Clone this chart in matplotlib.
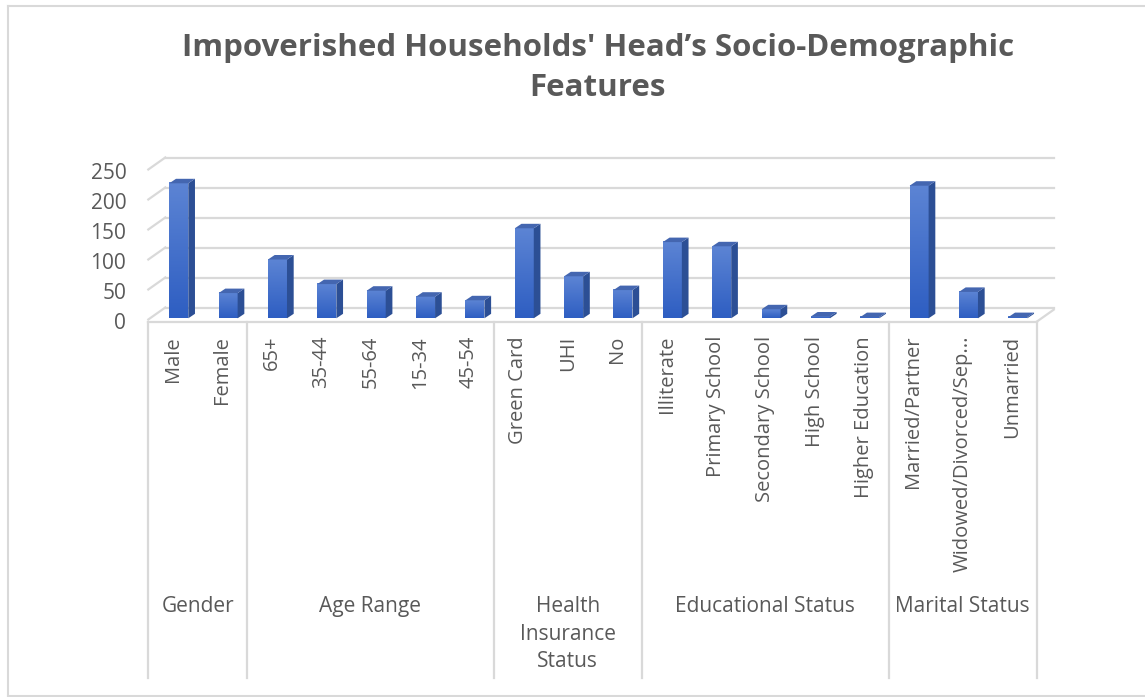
import matplotlib.pyplot as plt
import matplotlib.patches as mpatches
import numpy as np

plt.rcParams['font.family'] = ['Open Sans', 'DejaVu Sans']

groups = ['Gender', 'Age Range', 'Health\nInsurance\nStatus', 'Educational Status', 'Marital Status']
group_sizes = [2, 5, 3, 5, 3]
categories = ['Male', 'Female',
              '65+', '35-44', '55-64', '15-34', '45-54',
              'Green Card', 'UHI', 'No',
              'Illiterate', 'Primary School', 'Secondary School', 'High School', 'Higher Education',
              'Married/Partner', 'Widowed/Divorced/Sep...', 'Unmarried']
counts = [225, 42,
          98, 57, 46, 36, 30,
          150, 70, 47,
          127, 120, 15, 3, 2,
          221, 44, 2]
yticks = [0, 50, 100, 150, 200, 250]

W, H = 1145, 697
fig = plt.figure(figsize=(W / 100, H / 100), dpi=100)

# plot frame in pixels
x0_px, x1_px = 148.3, 1036.7
y0_px, ppu = 319.5, 0.6  # pixel row of 0, pixels per unit
ax = fig.add_axes([x0_px / W, (H - y0_px) / H, (x1_px - x0_px) / W, 250 * ppu / H])
n = len(categories)
ax.set_xlim(0, n)
ax.set_ylim(0, 250)
ax.axis('off')

cw = (x1_px - x0_px) / n          # pixels per category
px_x = lambda p: p / cw           # pixel -> data (x)
px_y = lambda p: p / ppu          # pixel -> data (y)

grid_c = '#d9d9d9'
text_c = '#595959'
wx, wy = px_x(17), px_y(12)       # back wall offset

# back wall gridlines + left wall slants
for v in yticks:
    ax.plot([wx, n + wx], [v + wy, v + wy], color=grid_c, lw=1.6, clip_on=False, zorder=1)
    ax.plot([0, wx], [v, v + wy], color=grid_c, lw=1.6, clip_on=False, zorder=1)

# floor edges
fy = -px_y(2.2)
ax.plot([0, n], [fy, fy], color=grid_c, lw=1.6, clip_on=False, zorder=1)
ax.plot([n, n + wx], [fy, fy + wy], color=grid_c, lw=1.6, clip_on=False, zorder=1)

# bars with a simple 3D look
bw = px_x(19)
sdx, sdy = px_x(6.7), px_y(4.5)
shift = px_x(5.8)
by = px_y(1.2)
grad = np.linspace(0, 1, 64).reshape(-1, 1)
top_c = np.array([0x5c, 0x84, 0xd4]) / 255
bot_c = np.array([0x2e, 0x5e, 0xc2]) / 255
for i, v in enumerate(counts):
    xl = i + 0.5 + shift - bw / 2
    xr = xl + bw
    vt = v + by
    img = top_c[None, None, :] * (1 - grad[:, :, None]) + bot_c[None, None, :] * grad[:, :, None]
    im = ax.imshow(img, extent=[xl, xr, by, vt], aspect='auto', origin='upper', zorder=3, clip_on=False)
    face = mpatches.Rectangle((xl, by), bw, v, fill=False, lw=0)
    ax.add_patch(face)
    im.set_clip_path(face)
    side = mpatches.Polygon([(xr, by), (xr, vt), (xr + sdx, vt + sdy), (xr + sdx, by + sdy)],
                            closed=True, facecolor='#2c4f95', edgecolor='none', zorder=3, clip_on=False)
    top = mpatches.Polygon([(xl, vt), (xr, vt), (xr + sdx, vt + sdy), (xl + sdx, vt + sdy)],
                           closed=True, facecolor='#4466b0', edgecolor='none', zorder=4, clip_on=False)
    ax.add_patch(side)
    ax.add_patch(top)
ax.set_xlim(0, n)
ax.set_ylim(0, 250)

# y tick labels
for v in yticks:
    ax.text(-px_x(22), v - px_y(4), str(v), ha='right', va='center', fontsize=15, color=text_c,
            clip_on=False)

# category labels (rotated)
lab_top = -px_y(336 - y0_px)
for i, c in enumerate(categories):
    ax.text(i + 0.5, lab_top, c, rotation=90, ha='center', va='top', fontsize=14.5,
            color=text_c, clip_on=False)

# group separators and labels
sep_bottom = -px_y(678 - y0_px)
bounds = np.concatenate([[0], np.cumsum(group_sizes)])
for b in bounds:
    ax.plot([b, b], [fy, sep_bottom], color=grid_c, lw=1.6, clip_on=False, zorder=1)
grp_y = -px_y(596 - y0_px)
for g, a, b in zip(groups, bounds[:-1], bounds[1:]):
    ax.text((a + b) / 2, grp_y, g, ha='center', va='top', fontsize=15, color=text_c,
            linespacing=1.41, clip_on=False)

# title
fig.text(598 / W, 1 - 33 / H, "Impoverished Households' Head\u2019s Socio-Demographic\nFeatures",
         ha='center', va='top', fontsize=22.5, fontweight='bold', color=text_c, linespacing=1.42)

# chart border
fig.add_artist(plt.Line2D([8 / W, 8 / W], [1 - 6 / H, 1 - 696 / H], color=grid_c, lw=1.5))
fig.add_artist(plt.Line2D([8 / W, 1], [1 - 6 / H, 1 - 6 / H], color=grid_c, lw=1.5))
fig.add_artist(plt.Line2D([8 / W, 1], [1 - 696 / H, 1 - 696 / H], color=grid_c, lw=1.5))

fig.savefig('out.png', dpi=100)
